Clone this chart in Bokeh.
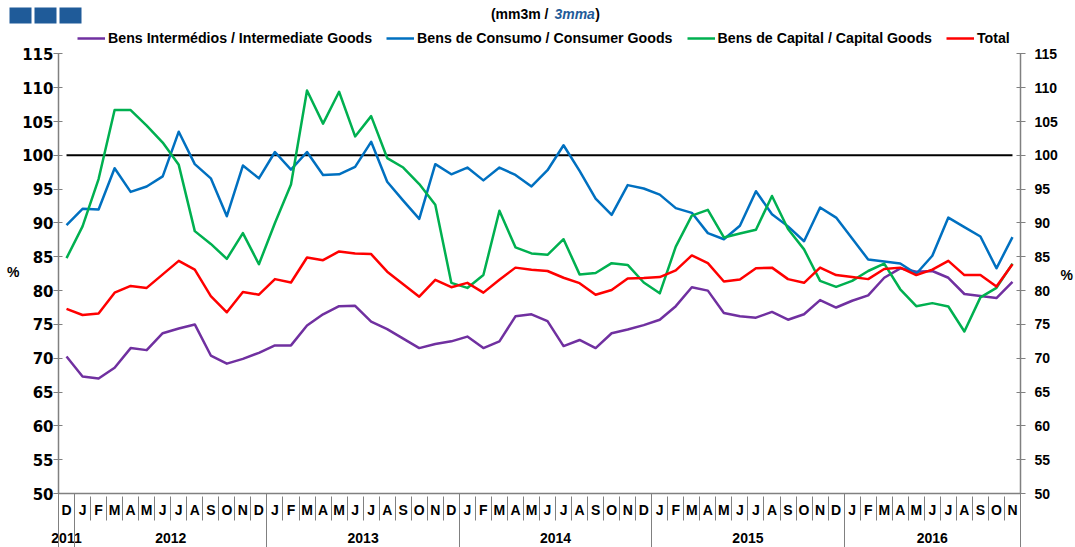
from bokeh.plotting import figure
from bokeh.models import (Range1d, LinearAxis, FixedTicker, Legend, LegendItem, Label)
from bokeh.embed import file_html
from bokeh.resources import INLINE

# ---------------- data ----------------
months = ["D",
          "J", "F", "M", "A", "M", "J", "J", "A", "S", "O", "N", "D",
          "J", "F", "M", "A", "M", "J", "J", "A", "S", "O", "N", "D",
          "J", "F", "M", "A", "M", "J", "J", "A", "S", "O", "N", "D",
          "J", "F", "M", "A", "M", "J", "J", "A", "S", "O", "N", "D",
          "J", "F", "M", "A", "M", "J", "J", "A", "S", "O", "N"]

years = ["2011", "2012", "2013", "2014", "2015", "2016"]
months_per_year = [1, 12, 12, 12, 12, 11]

intermediate = [70.25, 67.3, 67.0, 68.6, 71.5, 71.2, 73.7, 74.4, 75.0, 70.4, 69.2, 69.9, 70.8,
                71.9, 71.9, 74.85, 76.5, 77.7, 77.75, 75.4, 74.3, 72.9, 71.5, 72.1, 72.5,
                73.2, 71.5, 72.5, 76.2, 76.5, 75.5, 71.8, 72.7, 71.5, 73.7, 74.25, 74.9,
                75.7, 77.7, 80.5, 80.0, 76.7, 76.2, 76.0, 76.85, 75.7, 76.5, 78.6, 77.5,
                78.5, 79.3, 81.9, 83.3, 82.8, 82.9, 81.9, 79.5, 79.2, 78.9, 81.3]

consumer = [89.7, 92.1, 92.0, 98.1, 94.6, 95.4, 96.9, 103.5, 98.7, 96.6, 91.0, 98.5, 96.6,
            100.5, 97.9, 100.5, 97.1, 97.2, 98.3, 102.0, 96.1, 93.3, 90.6, 98.7, 97.2,
            98.2, 96.3, 98.2, 97.1, 95.4, 97.8, 101.5, 97.7, 93.6, 91.2, 95.6, 95.1,
            94.2, 92.2, 91.5, 88.5, 87.6, 89.6, 94.7, 91.3, 89.5, 87.3, 92.3, 90.8,
            87.7, 84.6, 84.3, 84.0, 82.5, 85.15, 90.8, 89.4, 88.0, 83.3, 87.9]

capital = [84.8, 89.5, 96.5, 106.7, 106.7, 104.4, 101.9, 98.6, 88.8, 86.9, 84.7, 88.5, 83.9,
           90.0, 95.7, 109.6, 104.7, 109.4, 102.8, 105.8, 99.6, 98.2, 95.75, 92.7, 81.15,
           80.4, 82.3, 91.8, 86.4, 85.5, 85.3, 87.6, 82.4, 82.6, 84.06, 83.8, 81.2,
           79.6, 86.5, 91.1, 91.95, 87.86, 88.45, 89.0, 94.0, 89.1, 86.1, 81.45, 80.56,
           81.45, 82.9, 84.0, 80.2, 77.7, 78.15, 77.65, 73.96, 79.0, 80.4, 84.0]

total = [77.3, 76.4, 76.6, 79.7, 80.7, 80.4, 82.4, 84.4, 83.1, 79.2, 76.8, 79.8, 79.4,
         81.7, 81.2, 84.9, 84.5, 85.8, 85.5, 85.4, 82.8, 80.95, 79.1, 81.6, 80.5,
         81.15, 79.7, 81.6, 83.4, 83.1, 82.9, 81.9, 81.1, 79.4, 80.1, 81.8, 81.85,
         82.0, 83.0, 85.2, 84.06, 81.35, 81.65, 83.3, 83.4, 81.7, 81.15, 83.4, 82.3,
         82.0, 81.7, 83.2, 83.4, 82.3, 83.1, 84.4, 82.3, 82.3, 80.6, 83.9]

series_names = ["Bens Intermédios / Intermediate Goods",
                "Bens de Consumo / Consumer Goods",
                "Bens de Capital / Capital Goods",
                "Total"]
series_colors = ["#7030A0", "#0070C0", "#00B050", "#FF0000"]

y_ticks = [50, 55, 60, 65, 70, 75, 80, 85, 90, 95, 100, 105, 110, 115]
reference_level = 100
title_parts = ["(mm3m / ", "3mma", ")"]
unit_label = "%"

# ---------------- figure ----------------
x = list(range(len(months)))
AXIS_GREY = "#808080"
WIDE_FONT = "DejaVu Sans"
TEXT_FONT = "Liberation Sans"
LOGO_BLUE = "#1F5B99"
Y_TOP = 122.9          # headroom above the 115 tick (legend / title area)
UNIT_LEVEL_LEFT = 82.68
UNIT_LEVEL_RIGHT = 82.3
LOGO_LEVEL = 120.68

p = figure(width=1075, height=547, output_backend="svg", toolbar_location=None,
           x_range=Range1d(-0.5, len(months) - 0.5), y_range=Range1d(y_ticks[0], Y_TOP),
           x_axis_type=None, y_axis_type=None,
           min_border_left=58, min_border_right=49, min_border_top=0, min_border_bottom=54)
p.outline_line_color = None
p.background_fill_color = "white"


def style_y(ax, standoff, font, size):
    ax.ticker = FixedTicker(ticks=y_ticks)
    ax.bounds = (y_ticks[0], y_ticks[-1])
    ax.axis_line_color = AXIS_GREY
    ax.axis_line_width = 1.5
    ax.major_tick_line_color = AXIS_GREY
    ax.major_tick_out = 5
    ax.major_tick_in = 4
    ax.minor_tick_line_color = None
    ax.major_label_standoff = standoff
    ax.major_label_text_font = font
    ax.major_label_text_font_style = "bold"
    ax.major_label_text_font_size = size
    ax.major_label_text_color = "black"


def unit_axis(level):
    ax = LinearAxis(ticker=FixedTicker(ticks=[level]), major_label_overrides={level: unit_label})
    ax.axis_line_color = None
    ax.major_tick_line_color = None
    ax.minor_tick_line_color = None
    ax.major_tick_out = 0
    ax.major_tick_in = 0
    ax.major_label_standoff = 0
    ax.major_label_text_font = TEXT_FONT
    ax.major_label_text_font_style = "bold"
    ax.major_label_text_font_size = "14px"
    ax.major_label_text_color = "black"
    return ax


left_axis = LinearAxis()
style_y(left_axis, 0, WIDE_FONT, "15px")
p.add_layout(left_axis, "left")
p.add_layout(unit_axis(UNIT_LEVEL_LEFT), "left")

right_axis = LinearAxis()
style_y(right_axis, 9, TEXT_FONT, "14px")
p.add_layout(right_axis, "right")
p.add_layout(unit_axis(UNIT_LEVEL_RIGHT), "right")

# logo: three blue squares (a dashed, thick tick of an outer left axis)
logo_axis = LinearAxis(ticker=FixedTicker(ticks=[LOGO_LEVEL]), major_label_overrides={LOGO_LEVEL: ""})
logo_axis.axis_line_color = None
logo_axis.minor_tick_line_color = None
logo_axis.major_tick_line_color = LOGO_BLUE
logo_axis.major_tick_line_width = 16
logo_axis.major_tick_line_dash = "0 5 22 3 22 3 22 3"
logo_axis.major_tick_line_cap = "butt"
logo_axis.major_tick_out = 0
logo_axis.major_tick_in = 77
logo_axis.major_label_standoff = 0
logo_axis.major_label_text_font_size = "0px"
p.add_layout(logo_axis, "left")

# month letters row
month_axis = LinearAxis(
    ticker=FixedTicker(ticks=x),
    major_label_overrides={i: m for i, m in enumerate(months)},
)
month_axis.axis_line_color = AXIS_GREY
month_axis.axis_line_width = 1.5
month_axis.major_tick_line_color = None
month_axis.major_tick_out = 0
month_axis.major_tick_in = 0
month_axis.minor_tick_line_color = None
month_axis.major_label_standoff = 8
month_axis.major_label_text_font = TEXT_FONT
month_axis.major_label_text_font_style = "bold"
month_axis.major_label_text_font_size = "14px"
month_axis.major_label_text_color = "black"
p.add_layout(month_axis, "below")

# year row (month separators drawn upwards as inner minor ticks)
month_edges = [i - 0.5 for i in range(len(months) + 1)]
year_edges = [-0.5]
for n in months_per_year:
    year_edges.append(year_edges[-1] + n)
year_centers = []
for a, b in zip(year_edges[:-1], year_edges[1:]):
    c = (a + b) / 2
    year_centers.append(int(c) if float(c).is_integer() else c)
year_axis = LinearAxis(
    ticker=FixedTicker(ticks=year_centers, minor_ticks=month_edges),
    major_label_overrides={c: y for c, y in zip(year_centers, years)},
)
year_axis.axis_line_color = None
year_axis.major_tick_line_color = None
year_axis.major_tick_out = 0
year_axis.major_tick_in = 0
year_axis.minor_tick_line_color = AXIS_GREY
year_axis.minor_tick_in = 24
year_axis.minor_tick_out = 0
year_axis.major_label_standoff = 12
year_axis.major_label_text_font = TEXT_FONT
year_axis.major_label_text_font_style = "bold"
year_axis.major_label_text_font_size = "14px"
year_axis.major_label_text_color = "black"
p.add_layout(year_axis, "below")

# year separators (long ticks reaching up to the plot area)
sep_axis = LinearAxis(
    ticker=FixedTicker(ticks=year_edges),
    major_label_overrides={e: "" for e in year_edges},
)
sep_axis.axis_line_color = None
sep_axis.major_tick_line_color = AXIS_GREY
sep_axis.major_tick_in = 52
sep_axis.major_tick_out = 2
sep_axis.minor_tick_line_color = None
sep_axis.major_label_standoff = 0
sep_axis.major_label_text_font_size = "0px"
p.add_layout(sep_axis, "below")

# reference line at 100
p.line(x, [reference_level] * len(x), line_color="black", line_width=2)

renderers = []
for vals, col in zip([intermediate, consumer, capital, total], series_colors):
    r = p.line(x, vals, line_color=col, line_width=2.5, line_join="round")
    renderers.append(r)

legend = Legend(items=[LegendItem(label=n, renderers=[r]) for n, r in zip(series_names, renderers)],
                orientation="horizontal", location=(19, 445),
                glyph_width=28, glyph_height=20, label_standoff=3, spacing=14,
                padding=0, margin=0, border_line_color=None, background_fill_alpha=0,
                label_text_font=TEXT_FONT, label_text_font_style="bold",
                label_text_font_size="14.2px", label_text_color="black")
p.add_layout(legend)

# title
p.add_layout(Label(x=26.47, y=120.95, text=title_parts[0], text_align="left", text_baseline="middle",
                   text_font=TEXT_FONT, text_font_style="bold", text_font_size="14px", text_color="black"))
p.add_layout(Label(x=30.43, y=120.95, text=title_parts[1], text_align="left", text_baseline="middle",
                   text_font=TEXT_FONT, text_font_style="bold italic", text_font_size="14px",
                   text_color=LOGO_BLUE))
p.add_layout(Label(x=32.97, y=120.95, text=title_parts[2], text_align="left", text_baseline="middle",
                   text_font=TEXT_FONT, text_font_style="bold", text_font_size="14px", text_color="black"))

open("out.html", "w").write(file_html(p, INLINE))
